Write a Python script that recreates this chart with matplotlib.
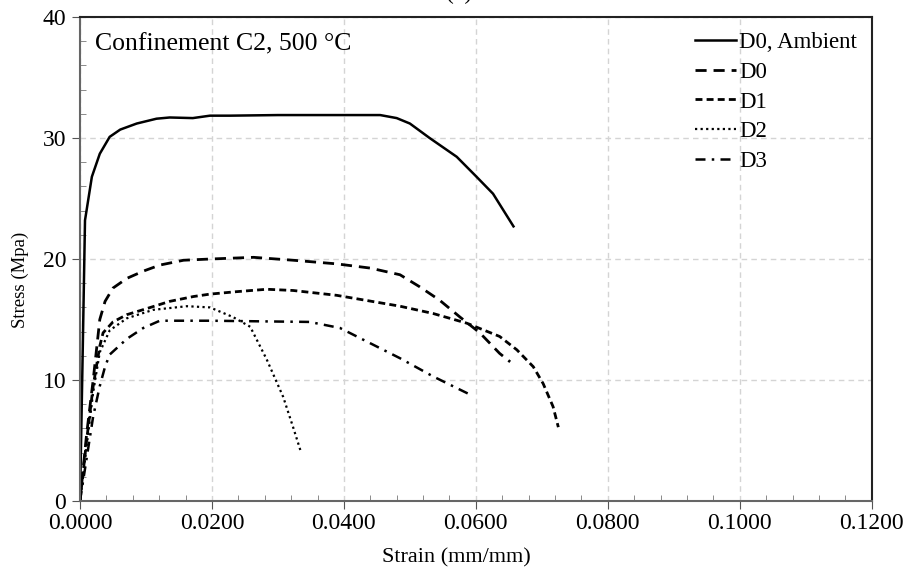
import matplotlib
matplotlib.use("Agg")
import matplotlib.pyplot as plt
from matplotlib.ticker import MultipleLocator, FormatStrFormatter

plt.rcParams['font.family'] = ['Liberation Serif', 'DejaVu Serif']

# stress-strain curves, confinement C2 at 500 C
d0_amb_strain = [0.0, 0.0004, 0.00076, 0.0018, 0.003, 0.0045, 0.0061, 0.0086, 0.0116, 0.0136,
                 0.0171, 0.0197, 0.0227, 0.030, 0.038, 0.0455, 0.048, 0.050, 0.053, 0.0571,
                 0.0601, 0.0626, 0.0657]
d0_amb_stress = [0.0, 12.0, 23.2, 26.8, 28.7, 30.1, 30.7, 31.2, 31.6, 31.7,
                 31.65, 31.85, 31.85, 31.9, 31.9, 31.9, 31.65, 31.2, 30.0, 28.45,
                 26.8, 25.4, 22.7]

d0_strain = [0.0, 0.001, 0.002, 0.003, 0.0038, 0.005, 0.0071, 0.0096, 0.0121, 0.0157,
             0.0197, 0.0263, 0.0323, 0.0389, 0.044, 0.0485, 0.0515, 0.0545, 0.0576, 0.0606,
             0.0636, 0.0652]
d0_stress = [0.0, 5.5, 10.0, 15.0, 16.5, 17.6, 18.4, 19.0, 19.5, 19.9,
             20.0, 20.14, 19.9, 19.6, 19.25, 18.7, 17.7, 16.6, 15.2, 13.9,
             12.2, 11.5]

d1_strain = [0.0, 0.001, 0.002, 0.003, 0.0035, 0.005, 0.0071, 0.0101, 0.0136, 0.0172,
             0.0197, 0.0237, 0.0283, 0.0323, 0.0389, 0.0485, 0.0535, 0.0586, 0.0636, 0.0662,
             0.0687, 0.0702, 0.0717, 0.0725]
d1_stress = [0.0, 5.0, 9.5, 12.8, 13.9, 14.8, 15.4, 15.9, 16.5, 16.9,
             17.1, 17.3, 17.5, 17.4, 17.0, 16.1, 15.5, 14.7, 13.6, 12.5,
             11.1, 9.7, 7.8, 6.1]

d2_strain = [0.0, 0.001, 0.002, 0.003, 0.0045, 0.0071, 0.0111, 0.0162, 0.0197, 0.0232,
             0.0258, 0.0283, 0.0308, 0.0323, 0.0334]
d2_stress = [0.0, 4.5, 9.0, 12.3, 14.1, 15.1, 15.8, 16.1, 16.0, 15.2,
             14.4, 11.7, 8.6, 6.1, 4.2]

d3_strain = [0.0, 0.001, 0.002, 0.003, 0.0038, 0.0045, 0.0071, 0.0096, 0.0121, 0.0197,
             0.0348, 0.0394, 0.0485, 0.0535, 0.0576, 0.0591]
d3_stress = [0.0, 3.5, 7.0, 9.5, 11.1, 12.1, 13.4, 14.3, 14.9, 14.9,
             14.8, 14.3, 11.8, 10.3, 9.2, 8.8]

fig = plt.figure(figsize=(9.09, 5.73), dpi=100)
ax = fig.add_axes([0.088, 0.1257, 0.871, 0.8445])

ax.plot(d0_amb_strain, d0_amb_stress, color='black', lw=1.8, label='D0, Ambient')
ax.plot(d0_strain, d0_stress, color='black', lw=2.0, dashes=(4, 2.5), label='D0')
ax.plot(d1_strain, d1_stress, color='black', lw=2.0, dashes=(2.5, 1.5), label='D1')
ax.plot(d2_strain, d2_stress, color='black', lw=1.6, dashes=(1, 1.5), label='D2')
ax.plot(d3_strain, d3_stress, color='black', lw=1.8, dashes=(4, 2.5, 1, 2.5), label='D3')

ax.set_xlim(0, 0.12)
ax.set_ylim(0, 40)
ax.xaxis.set_major_locator(MultipleLocator(0.02))
ax.xaxis.set_minor_locator(MultipleLocator(0.004))
ax.yaxis.set_major_locator(MultipleLocator(10))
ax.yaxis.set_minor_locator(MultipleLocator(2))
ax.xaxis.set_major_formatter(FormatStrFormatter('%.4f'))
ax.tick_params(which='major', direction='out', length=6, labelsize=17, color='#555555')
ax.tick_params(which='minor', direction='in', length=4, color='#777777')
ax.tick_params(axis='x', pad=3)
ax.tick_params(axis='y', pad=4)

ax.grid(True, which='major', color='#d4d4d4', linestyle=(0, (4, 3)), lw=1)
for s in ax.spines.values():
    s.set_color('#222222')
    s.set_linewidth(1.5)
ax.spines['left'].set_color('#666666')
ax.spines['bottom'].set_color('#666666')

ax.set_xlabel('Strain (mm/mm)', fontsize=16)
ax.xaxis.set_label_coords(0.476, -0.097)
ax.set_ylabel('Stress (Mpa)', fontsize=13.5)
ax.yaxis.set_label_coords(-0.064, 0.457)

ax.text(0.019, 0.944, 'Confinement C2, 500 \u00b0C', transform=ax.transAxes,
        fontsize=18.5, va='center', ha='left')

ax.legend(loc='upper right', frameon=False, fontsize=16.5, handlelength=1.75,
          handletextpad=0.15, labelspacing=0.38, borderaxespad=0.2, borderpad=0.45)

fig.text(0.505, 1.012, '(a)', fontsize=17, ha='center', va='center')

fig.savefig('out.png', dpi=100)
